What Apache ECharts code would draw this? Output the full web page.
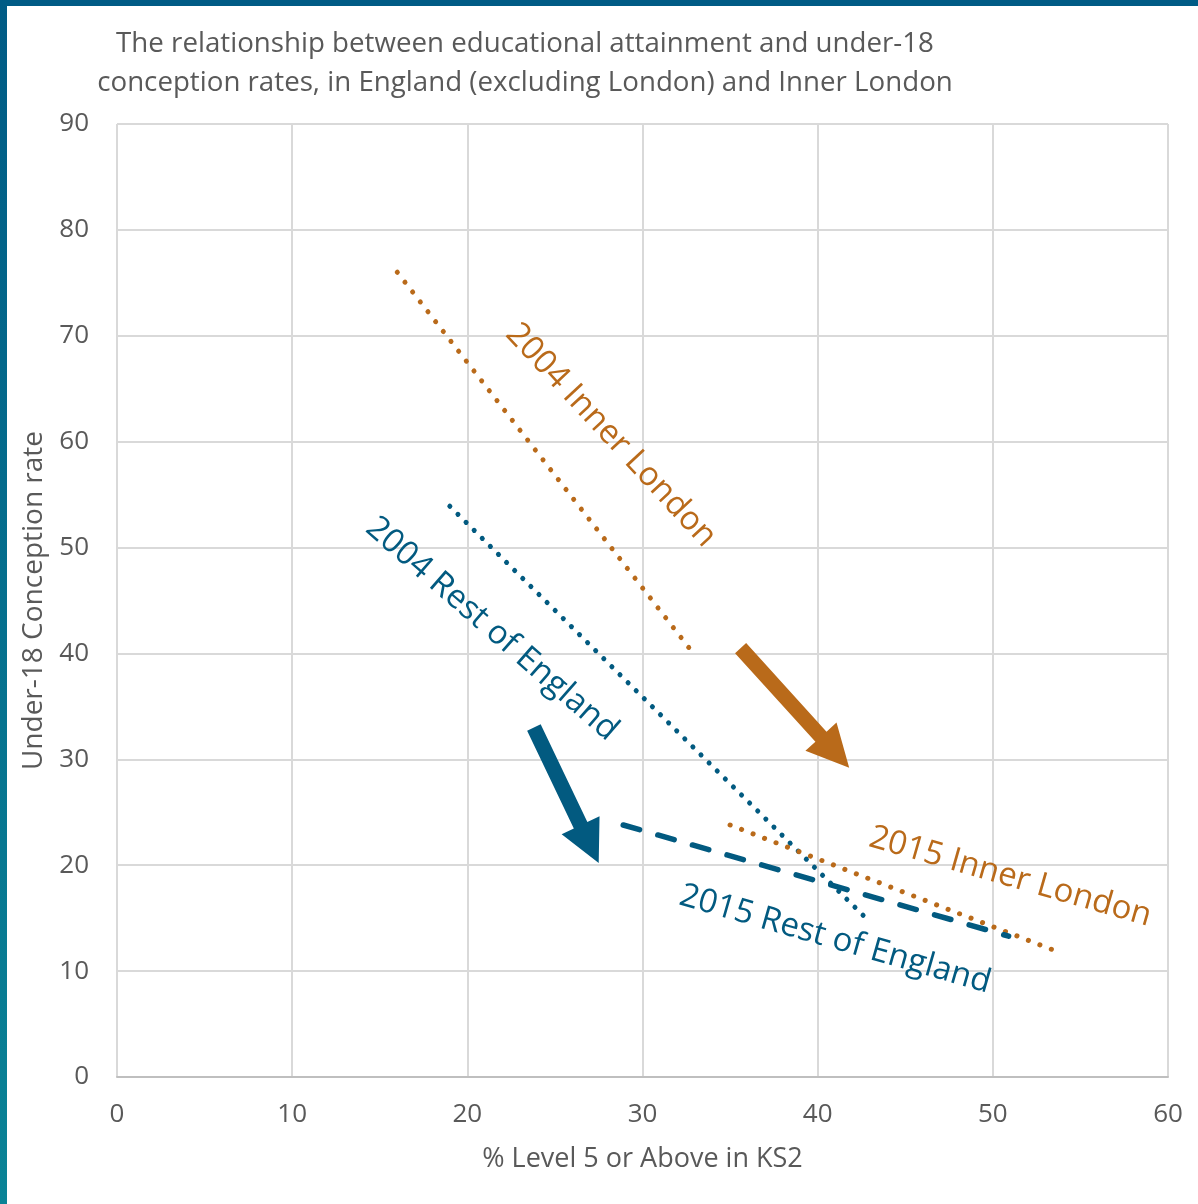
<!DOCTYPE html>
<html>
<head>
<meta charset="utf-8">
<script src="https://cdn.jsdelivr.net/npm/echarts@6/dist/echarts.min.js"></script>
<style>
html,body{margin:0;padding:0;background:#fff;}
#chart{width:1198px;height:1204px;}
</style>
</head>
<body>
<div id="chart"></div>
<script>
// ---- Data ----
const titleLines = ['The relationship between educational attainment and under-18', 'conception rates, in England (excluding London) and Inner London'];
const xAxisName = '% Level 5 or Above in KS2';
const yAxisName = 'Under-18 Conception rate';
const xTicks = [0, 10, 20, 30, 40, 50, 60];
const yTicks = [0, 10, 20, 30, 40, 50, 60, 70, 80, 90];

const innerLondon2004X = [16, 33];
const innerLondon2004Y = [76, 39.8];
const restEngland2004X = [19, 43];
const restEngland2004Y = [53.9, 14.6];
const innerLondon2015X = [35, 53.6];
const innerLondon2015Y = [23.8, 11.9];
const restEngland2015X = [28.9, 50.9];
const restEngland2015Y = [23.8, 13.3];

// arrows: [fromX, fromY, toX, toY]
const orangeArrow = [35.6, 40.5, 41.8, 29.2];
const blueArrow = [23.8, 33.0, 27.5, 20.2];

// annotation labels: [x, y, text]
const labelInnerLondon2004 = [28.2, 60.6, '2004 Inner London'];
const labelRestEngland2004 = [21.4, 42.3, '2004 Rest of England'];
const labelInnerLondon2015 = [51.0, 18.9, '2015 Inner London'];
const labelRestEngland2015 = [41.0, 13.0, '2015 Rest of England'];

// ---- Styles ----
const ORANGE = '#B96A1A';
const BLUE = '#025A80';
const GREY = '#595959';
const FONT = '"Open Sans", "Noto Sans", sans-serif';

function zip(xs, ys) { return xs.map((x, i) => [x, ys[i]]); }

function lineSeries(name, xs, ys, color, dash, width) {
  return {
    name: name, type: 'line', data: zip(xs, ys), showSymbol: false, symbol: 'none',
    silent: true, animation: false, z: 3,
    lineStyle: { color: color, width: width, type: dash, cap: 'round' }
  };
}

function arrowSeries(arr, color) {
  return {
    type: 'custom', data: [arr], clip: false, silent: true, animation: false, z: 4,
    renderItem: function (params, api) {
      const p0 = api.coord([api.value(0), api.value(1)]);
      const p1 = api.coord([api.value(2), api.value(3)]);
      const dx = p1[0] - p0[0], dy = p1[1] - p0[1];
      const len = Math.sqrt(dx * dx + dy * dy);
      const ux = dx / len, uy = dy / len;
      const nx = -uy, ny = ux;
      const sw = 7.5, hw = 21, hl = 42;
      const bx = p1[0] - ux * hl, by = p1[1] - uy * hl;
      const pts = [
        [p0[0] + nx * sw, p0[1] + ny * sw],
        [bx + nx * sw, by + ny * sw],
        [bx + nx * hw, by + ny * hw],
        [p1[0], p1[1]],
        [bx - nx * hw, by - ny * hw],
        [bx - nx * sw, by - ny * sw],
        [p0[0] - nx * sw, p0[1] - ny * sw]
      ];
      return { type: 'polygon', shape: { points: pts }, style: { fill: color } };
    }
  };
}

function labelSeries(lab, color, angleDeg) {
  return {
    type: 'custom', data: [[lab[0], lab[1]]], clip: false, silent: true, animation: false, z: 5,
    renderItem: function (params, api) {
      const p = api.coord([api.value(0), api.value(1)]);
      return {
        type: 'text', x: p[0], y: p[1], rotation: -angleDeg * Math.PI / 180,
        style: { text: lab[2], fill: color, fontSize: 33, fontFamily: FONT, align: 'center', verticalAlign: 'middle' }
      };
    }
  };
}

const chart = echarts.init(document.getElementById('chart'), null, { renderer: 'canvas' });
chart.setOption({
  animation: false,
  backgroundColor: '#ffffff',
  grid: { left: 117, right: 30, top: 124, bottom: 127, containLabel: false },
  xAxis: {
    type: 'value', min: xTicks[0], max: xTicks[xTicks.length - 1], interval: 10,
    name: xAxisName, nameLocation: 'middle', nameGap: 69,
    nameTextStyle: { color: GREY, fontSize: 27, fontFamily: FONT },
    axisLine: { show: true, lineStyle: { color: '#bfbfbf', width: 2 } },
    axisTick: { show: false },
    axisLabel: { color: GREY, fontSize: 26, fontFamily: FONT, margin: 25 },
    splitLine: { show: true, lineStyle: { color: '#d9d9d9', width: 2 } }
  },
  yAxis: {
    type: 'value', min: yTicks[0], max: yTicks[yTicks.length - 1], interval: 10,
    name: yAxisName, nameLocation: 'middle', nameGap: 69,
    nameTextStyle: { color: GREY, fontSize: 28, fontFamily: FONT },
    axisLine: { show: false },
    axisTick: { show: false },
    axisLabel: { color: GREY, fontSize: 26, fontFamily: FONT, margin: 28 },
    splitLine: { show: true, lineStyle: { color: '#d9d9d9', width: 2 } }
  },
  graphic: [
    { type: 'rect', left: 0, top: 0, shape: { width: 1198, height: 6 }, style: { fill: '#005B85' }, silent: true, z: 100 },
    { type: 'rect', left: 0, top: 0, shape: { width: 7, height: 1204 }, silent: true, z: 100,
      style: { fill: new echarts.graphic.LinearGradient(0, 0, 0, 1, [{ offset: 0, color: '#005B85' }, { offset: 1, color: '#0A8396' }]) } },
    { type: 'text', x: 525, y: 25, silent: true,
      style: { text: titleLines.join('\n'), fill: GREY, fontSize: 27.7, lineHeight: 39, fontFamily: FONT, align: 'center', verticalAlign: 'top' } }
  ],
  series: [
    lineSeries('2004 Inner London', innerLondon2004X, innerLondon2004Y, ORANGE, [0.1, 12.4], 5),
    lineSeries('2004 Rest of England', restEngland2004X, restEngland2004Y, BLUE, [0.1, 11.3], 5),
    lineSeries('2015 Inner London', innerLondon2015X, innerLondon2015Y, ORANGE, [0.1, 12.2], 5),
    lineSeries('2015 Rest of England', restEngland2015X, restEngland2015Y, BLUE, [17, 19], 5.5),
    arrowSeries(orangeArrow, ORANGE),
    arrowSeries(blueArrow, BLUE),
    labelSeries(labelInnerLondon2004, ORANGE, 47),
    labelSeries(labelRestEngland2004, BLUE, 41),
    labelSeries(labelInnerLondon2015, ORANGE, 16),
    labelSeries(labelRestEngland2015, BLUE, 16)
  ]
});
</script>
</body>
</html>
